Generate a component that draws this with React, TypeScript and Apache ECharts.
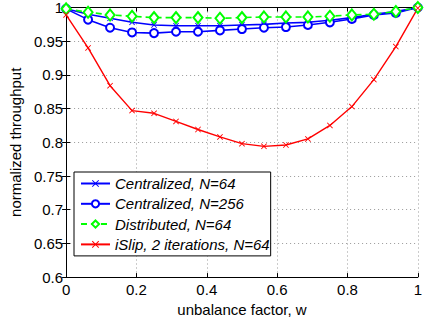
import React, { useEffect, useRef } from "react";
import * as echarts from "echarts";

const xValues = [0, 0.0625, 0.125, 0.1875, 0.25, 0.3125, 0.375, 0.4375, 0.5, 0.5625, 0.625, 0.6875, 0.75, 0.8125, 0.875, 0.9375, 1];
const central64 = [0.998, 0.99, 0.984, 0.978, 0.974, 0.973, 0.973, 0.973, 0.974, 0.975, 0.977, 0.978, 0.981, 0.985, 0.99, 0.994, 1.0];
const central256 = [0.998, 0.982, 0.97, 0.963, 0.962, 0.964, 0.964, 0.966, 0.968, 0.97, 0.971, 0.974, 0.978, 0.983, 0.989, 0.992, 1.0];
const distributed = [0.998, 0.993, 0.989, 0.987, 0.985, 0.985, 0.985, 0.984, 0.985, 0.986, 0.986, 0.986, 0.987, 0.989, 0.99, 0.994, 1.0];
const islip = [0.989, 0.94, 0.884, 0.847, 0.843, 0.831, 0.819, 0.808, 0.798, 0.794, 0.796, 0.805, 0.825, 0.853, 0.893, 0.942, 0.999];
const seriesNames = ["Centralized, N=64", "Centralized, N=256", "Distributed, N=64", "iSlip, 2 iterations, N=64"];

const FONT = "Liberation Sans";
const FS = 15;
const CROSS = "path://M0,1L1,0L5,4L9,0L10,1L6,5L10,9L9,10L5,6L1,10L0,9L4,5Z";

const pair = (ys: number[]) => ys.map((y, i) => [xValues[i], y]);

export default function App() {
  const ref = useRef<HTMLDivElement>(null);
  useEffect(() => {
    if (!ref.current) return;
    const chart = echarts.init(ref.current, null, { renderer: "svg" });
    const axisLabel = { fontFamily: FONT, fontSize: FS, color: "#000" };
    const xCommon = {
      type: "value" as const,
      min: 0,
      max: 1,
      interval: 0.2,
      axisLine: { show: true, lineStyle: { color: "#000", width: 1 } },
      axisTick: { show: true, inside: true, length: 4, lineStyle: { color: "#000" } },
    };
    const yCommon = {
      type: "value" as const,
      min: 0.6,
      max: 1,
      interval: 0.05,
      axisLine: { show: true, lineStyle: { color: "#000", width: 1 } },
      axisTick: { show: true, inside: true, length: 4, lineStyle: { color: "#000" } },
    };
    chart.setOption({
      animation: false,
      backgroundColor: "#fff",
      grid: { left: 61, right: 1, top: 6, bottom: 41 },
      xAxis: [
        {
          ...xCommon,
          position: "bottom",
          name: "unbalance factor, w",
          nameLocation: "middle",
          nameGap: 20,
          nameTextStyle: { fontFamily: FONT, fontSize: FS, color: "#000" },
          axisLabel: { ...axisLabel, margin: 5 },
          splitLine: { show: true, lineStyle: { color: "#999", type: [1, 3], width: 1 } },
        },
        {
          ...xCommon,
          position: "top",
          axisLabel: { show: false },
          splitLine: { show: false },
        },
      ],
      yAxis: [
        {
          ...yCommon,
          position: "left",
          name: "normalized throughput",
          nameLocation: "middle",
          nameGap: 42,
          nameTextStyle: { fontFamily: FONT, fontSize: FS, color: "#000" },
          axisLabel: { ...axisLabel, margin: 3 },
          splitLine: { show: true, lineStyle: { color: "#999", type: [1, 3], width: 1 } },
        },
        {
          ...yCommon,
          position: "right",
          axisLabel: { show: false },
          splitLine: { show: false },
        },
      ],
      legend: {
        orient: "vertical",
        left: 74,
        top: 172,
        backgroundColor: "#fff",
        borderColor: "#000",
        borderWidth: 1,
        borderRadius: 0,
        padding: [4, 1, 4, 6],
        itemGap: 5.3,
        itemWidth: 29,
        itemHeight: 9,
        textStyle: { fontFamily: FONT, fontSize: 15, fontStyle: "italic", color: "#000" },
        data: seriesNames,
      },
      series: [
        {
          name: seriesNames[0],
          type: "line",
          data: pair(central64),
          clip: false,
          symbol: CROSS,
          symbolSize: 6,
          lineStyle: { color: "#0000ff", width: 1.6 },
          itemStyle: { color: "#0000ff" },
        },
        {
          name: seriesNames[1],
          type: "line",
          data: pair(central256),
          clip: false,
          symbol: "emptyCircle",
          symbolSize: 8,
          lineStyle: { color: "#0000ff", width: 1.6 },
          itemStyle: { color: "#0000ff", borderColor: "#0000ff", borderWidth: 1.6 },
        },
        {
          name: seriesNames[2],
          type: "line",
          data: pair(distributed),
          clip: false,
          symbol: "emptyDiamond",
          symbolSize: [9, 11],
          lineStyle: { color: "#00ff00", width: 1.6, type: [6, 4] },
          itemStyle: { color: "#00ff00", borderColor: "#00ff00", borderWidth: 1.6 },
        },
        {
          name: seriesNames[3],
          type: "line",
          data: pair(islip),
          clip: false,
          symbol: CROSS,
          symbolSize: 6,
          lineStyle: { color: "#ff0000", width: 1.4 },
          itemStyle: { color: "#ff0000" },
        },
      ],
    });
    return () => chart.dispose();
  }, []);
  return <div ref={ref} style={{ position: "fixed", left: 0, top: 0, width: 425, height: 322 }} />;
}
